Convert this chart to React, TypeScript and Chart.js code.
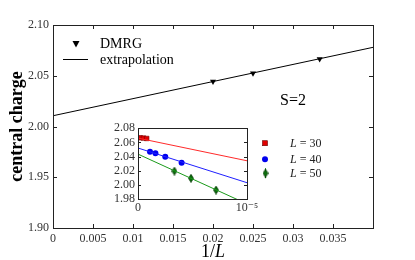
import React, { useEffect, useRef } from 'react';
import { Chart, registerables } from 'chart.js';
Chart.register(...registerables);

// ---- main panel data ----
const dmrgInvL = [1 / 30, 1 / 40, 1 / 50];
const dmrgC = [2.0665, 2.0525, 2.0443];
const extrapX = [0, 0.04];
const extrapC = [2.0106, 2.078];
const mainXMin = 0, mainXMax = 0.04, mainXStep = 0.005;
const mainYMin = 1.9, mainYMax = 2.1, mainYStep = 0.05;
const mainLegend = ['DMRG', 'extrapolation'];
const spinLabel = 'S=2';
const yTitle = 'central charge';

// ---- inset data (x in units of 1e-5) ----
const insetL30X = [0.02, 0.05, 0.08];
const insetL30Y = [2.0665, 2.066, 2.0655];
const insetL40X = [0.11, 0.16, 0.25, 0.40];
const insetL40Y = [2.0466, 2.0446, 2.0396, 2.0311];
const insetL50X = [0.334, 0.486, 0.716];
const insetL50Y = [2.0194, 2.0093, 1.9927];
const insetL50Err = [0.0035, 0.0035, 0.0035];
const fitX = [0, 1];
const fitL30 = [2.066, 2.034];
const fitL40 = [2.052, 2.003];
const fitL50 = [2.0434, 1.973];
const insetSizes = ['30', '40', '50'];
const insetYMin = 1.98, insetYMax = 2.08, insetYStep = 0.02;

const RED = '#ff2a2a';
const BLUE = '#1f1fff';
const GREEN = '#1a9a1a';
const FONT = "'Liberation Serif', 'DejaVu Serif', serif";

const pts = (xs: number[], ys: number[]) => xs.map((x, i) => ({ x, y: ys[i] }));

function makeDiamond(): HTMLCanvasElement {
  const c = document.createElement('canvas');
  c.width = 6; c.height = 9;
  const g = c.getContext('2d')!;
  g.beginPath();
  g.moveTo(3, 0.5); g.lineTo(5.5, 4.5); g.lineTo(3, 8.5); g.lineTo(0.5, 4.5); g.closePath();
  g.fillStyle = '#0b6e0b'; g.fill();
  g.strokeStyle = '#063806'; g.lineWidth = 0.8; g.stroke();
  return c;
}

function frameTicksPlugin(len: number, xTicks: boolean) {
  return {
    id: 'frameTicks',
    afterDraw(chart: any) {
      const { ctx, chartArea: a, scales } = chart;
      ctx.save();
      ctx.strokeStyle = '#222';
      ctx.lineWidth = 1;
      ctx.beginPath();
      if (xTicks) {
        scales.x.ticks.forEach((t: any) => {
          const p = Math.round(scales.x.getPixelForValue(t.value)) + 0.5;
          ctx.moveTo(p, a.bottom); ctx.lineTo(p, a.bottom - len);
          ctx.moveTo(p, a.top); ctx.lineTo(p, a.top + len);
        });
      }
      scales.y.ticks.forEach((t: any) => {
        const p = Math.round(scales.y.getPixelForValue(t.value)) + 0.5;
        ctx.moveTo(a.left, p); ctx.lineTo(a.left + len, p);
        ctx.moveTo(a.right, p); ctx.lineTo(a.right - len, p);
      });
      ctx.stroke();
      ctx.strokeRect(Math.round(a.left) + 0.5, Math.round(a.top) + 0.5,
        Math.round(a.right - a.left), Math.round(a.bottom - a.top));
      ctx.restore();
    },
  };
}

const mainTextPlugin = {
  id: 'mainText',
  afterDraw(chart: any) {
    const { ctx, chartArea: a } = chart;
    ctx.save();
    ctx.fillStyle = '#000';
    // legend
    const tx = a.left + 23, ty = a.top + 19;
    ctx.beginPath();
    ctx.moveTo(tx - 3.5, ty - 3); ctx.lineTo(tx + 3.5, ty - 3); ctx.lineTo(tx, ty + 3.5); ctx.closePath();
    ctx.fill();
    ctx.strokeStyle = '#000'; ctx.lineWidth = 1;
    ctx.beginPath(); ctx.moveTo(a.left + 10, a.top + 34.5); ctx.lineTo(a.left + 35, a.top + 34.5); ctx.stroke();
    ctx.font = `14px ${FONT}`;
    ctx.textBaseline = 'middle';
    ctx.textAlign = 'left';
    ctx.fillText(mainLegend[0], a.left + 47, a.top + 19);
    ctx.fillText(mainLegend[1], a.left + 47, a.top + 35);
    // S=2
    ctx.font = `16px ${FONT}`;
    ctx.fillText(spinLabel, 280, 101);
    // y title
    ctx.save();
    ctx.translate(17, (a.top + a.bottom) / 2);
    ctx.rotate(-Math.PI / 2);
    ctx.textAlign = 'center';
    ctx.font = `bold 18px ${FONT}`;
    ctx.fillText(yTitle, 0, 0);
    ctx.restore();
    // x title 1/L
    const cx = (a.left + a.right) / 2, cy = 252;
    ctx.font = `18px ${FONT}`;
    const w1 = ctx.measureText('1/').width;
    ctx.font = `italic 18px ${FONT}`;
    const w2 = ctx.measureText('L').width;
    const x0 = cx - (w1 + w2) / 2;
    ctx.font = `18px ${FONT}`;
    ctx.fillText('1/', x0, cy);
    ctx.font = `italic 18px ${FONT}`;
    ctx.fillText('L', x0 + w1, cy);
    ctx.restore();
  },
};

function insetExtrasPlugin(diamond: HTMLCanvasElement) {
  return {
    id: 'insetExtras',
    beforeDatasetsDraw(chart: any) {
      const { ctx, scales } = chart;
      ctx.save();
      chart.data.datasets.forEach((ds: any) => {
        if (!ds.errors) return;
        ctx.strokeStyle = '#0b6e0b';
        ctx.lineWidth = 1;
        ds.data.forEach((p: any, i: number) => {
          const x = Math.round(scales.x.getPixelForValue(p.x)) + 0.5;
          ctx.beginPath();
          ctx.moveTo(x, scales.y.getPixelForValue(p.y - ds.errors[i]));
          ctx.lineTo(x, scales.y.getPixelForValue(p.y + ds.errors[i]));
          ctx.stroke();
        });
      });
      ctx.restore();
    },
    afterDraw(chart: any) {
      const { ctx, chartArea: a } = chart;
      ctx.save();
      const mx = a.right + 18;
      const rows = [a.top + 15, a.top + 31, a.top + 45];
      // square
      ctx.fillStyle = '#e00000';
      ctx.fillRect(mx - 2.5, rows[0] - 2.5, 5, 5);
      ctx.strokeStyle = '#600'; ctx.lineWidth = 0.6;
      ctx.strokeRect(mx - 2.5, rows[0] - 2.5, 5, 5);
      // circle
      ctx.fillStyle = '#0000ee';
      ctx.beginPath(); ctx.arc(mx, rows[1], 3, 0, Math.PI * 2); ctx.fill();
      // diamond with error bar
      ctx.strokeStyle = '#0b6e0b'; ctx.lineWidth = 1;
      ctx.beginPath(); ctx.moveTo(mx + 0.5, rows[2] - 5); ctx.lineTo(mx + 0.5, rows[2] + 5); ctx.stroke();
      ctx.drawImage(diamond, mx - 2.5, rows[2] - 4.5);
      // labels
      ctx.fillStyle = '#222';
      ctx.textBaseline = 'middle';
      const lx = a.right + 43;
      rows.forEach((y, i) => {
        ctx.font = `italic 12px ${FONT}`;
        ctx.fillText('L', lx, y + 1);
        const w = ctx.measureText('L').width;
        ctx.font = `12px ${FONT}`;
        ctx.fillText(' = ' + insetSizes[i], lx + w, y + 1);
      });
      ctx.restore();
    },
  };
}

export default function App() {
  const mainRef = useRef<HTMLCanvasElement>(null);
  const insetRef = useRef<HTMLCanvasElement>(null);

  useEffect(() => {
    const tickFont = { family: FONT, size: 12 };
    const main = new Chart(mainRef.current!, {
      type: 'scatter',
      data: {
        datasets: [
          {
            data: pts(extrapX, extrapC),
            showLine: true,
            borderColor: '#000',
            borderWidth: 1,
            pointRadius: 0,
          },
          {
            data: pts(dmrgInvL, dmrgC),
            pointStyle: 'triangle',
            rotation: 180,
            pointRadius: 3.5,
            backgroundColor: '#000',
            borderColor: '#000',
            borderWidth: 0,
          },
        ],
      } as any,
      options: {
        animation: false,
        responsive: false,
        devicePixelRatio: 1,
        layout: { padding: { left: 0, top: 25, right: 42, bottom: 0 } },
        plugins: { legend: { display: false }, tooltip: { enabled: false } },
        scales: {
          x: {
            type: 'linear',
            min: mainXMin,
            max: mainXMax,
            grid: { display: false, drawTicks: false },
            border: { display: false },
            afterFit: (s: any) => { s.height = 32; },
            ticks: {
              stepSize: mainXStep,
              padding: 4,
              font: tickFont,
              color: '#333',
              maxRotation: 0,
              autoSkip: false,
              callback: (v: any) => {
                const n = Number(v);
                if (n >= mainXMax - 1e-9) return '';
                return n === 0 ? '0' : String(parseFloat(n.toFixed(3)));
              },
            },
          },
          y: {
            type: 'linear',
            min: mainYMin,
            max: mainYMax,
            grid: { display: false, drawTicks: false },
            border: { display: false },
            afterFit: (s: any) => { s.width = 53; },
            ticks: {
              stepSize: mainYStep,
              padding: 4,
              font: tickFont,
              color: '#333',
              autoSkip: false,
              callback: (v: any) => Number(v).toFixed(2),
            },
          },
        },
      } as any,
      plugins: [frameTicksPlugin(4, true), mainTextPlugin],
    });

    const diamond = makeDiamond();
    const inset = new Chart(insetRef.current!, {
      type: 'scatter',
      data: {
        datasets: [
          { data: pts(fitX, fitL30), showLine: true, borderColor: RED, borderWidth: 1, pointRadius: 0 },
          { data: pts(fitX, fitL40), showLine: true, borderColor: BLUE, borderWidth: 1, pointRadius: 0 },
          { data: pts(fitX, fitL50), showLine: true, borderColor: GREEN, borderWidth: 1, pointRadius: 0 },
          {
            data: pts(insetL30X, insetL30Y),
            pointStyle: 'rect', pointRadius: 3.2,
            backgroundColor: '#e00000', borderColor: '#700', borderWidth: 0.6,
          },
          {
            data: pts(insetL40X, insetL40Y),
            pointStyle: 'circle', pointRadius: 3,
            backgroundColor: '#0000ee', borderColor: '#0000ee', borderWidth: 0,
          },
          {
            data: pts(insetL50X, insetL50Y),
            errors: insetL50Err,
            pointStyle: diamond, pointRadius: 4,
          },
        ],
      } as any,
      options: {
        animation: false,
        responsive: false,
        devicePixelRatio: 1,
        layout: { padding: { left: 0, top: 10, right: 93, bottom: 0 } },
        plugins: { legend: { display: false }, tooltip: { enabled: false } },
        scales: {
          x: {
            type: 'linear',
            min: 0,
            max: 1,
            grid: { display: false, drawTicks: false },
            border: { display: false },
            afterFit: (s: any) => { s.height = 19; },
            ticks: {
              stepSize: 1,
              padding: 2,
              font: tickFont,
              color: '#333',
              maxRotation: 0,
              autoSkip: false,
              callback: (v: any) => (Number(v) === 0 ? '0' : '10\u207B\u2075'),
            },
          },
          y: {
            type: 'linear',
            min: insetYMin,
            max: insetYMax,
            grid: { display: false, drawTicks: false },
            border: { display: false },
            afterFit: (s: any) => { s.width = 43; },
            ticks: {
              stepSize: insetYStep,
              padding: 3,
              font: tickFont,
              color: '#333',
              autoSkip: false,
              callback: (v: any) => Number(v).toFixed(2),
            },
          },
        },
      } as any,
      plugins: [frameTicksPlugin(3, false), insetExtrasPlugin(diamond)],
    });

    return () => {
      main.destroy();
      inset.destroy();
    };
  }, []);

  return (
    <div style={{ position: 'fixed', left: 0, top: 0, width: 415, height: 260, background: '#fff' }}>
      <canvas ref={mainRef} width={415} height={260} style={{ position: 'absolute', left: 0, top: 0 }} />
      <canvas ref={insetRef} width={245} height={100} style={{ position: 'absolute', left: 95, top: 118 }} />
    </div>
  );
}
